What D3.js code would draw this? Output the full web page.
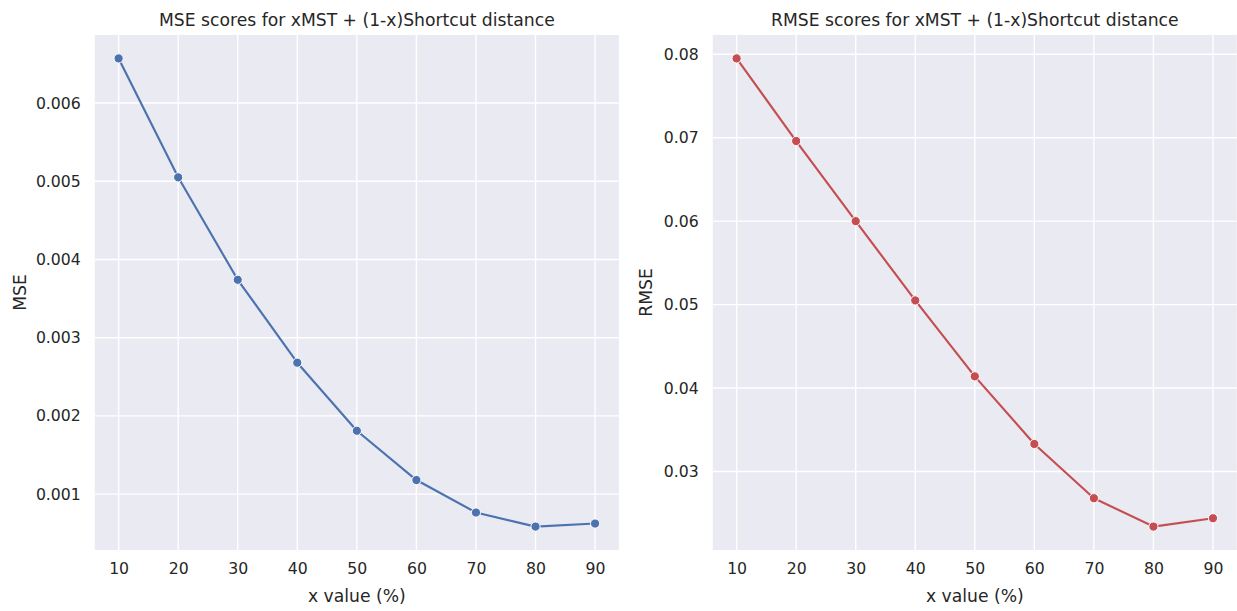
<!DOCTYPE html>
<html>
<head>
<meta charset="utf-8">
<script src="https://cdn.jsdelivr.net/npm/d3@7"></script>
<style>
  html, body { margin: 0; padding: 0; background: #ffffff; }
  svg { display: block; }
  text { font-family: "DejaVu Sans", sans-serif; fill: #262626; }
</style>
</head>
<body>
<svg id="chart" width="1237" height="611"></svg>
<script>
// ---- data ----
const xValues = [10, 20, 30, 40, 50, 60, 70, 80, 90];
const mseValues = [0.00657, 0.00505, 0.00374, 0.00268, 0.00181, 0.00118, 0.000765, 0.000585, 0.000624];
const rmseValues = [0.0795, 0.0696, 0.0600, 0.0505, 0.0414, 0.0333, 0.0268, 0.0234, 0.0244];
const xTicks = [10, 20, 30, 40, 50, 60, 70, 80, 90];
const mseTicks = [0.001, 0.002, 0.003, 0.004, 0.005, 0.006];
const rmseTicks = [0.03, 0.04, 0.05, 0.06, 0.07, 0.08];
const titles = ["MSE scores for xMST + (1-x)Shortcut distance", "RMSE scores for xMST + (1-x)Shortcut distance"];
const yLabels = ["MSE", "RMSE"];
const xLabel = "x value (%)";

const svg = d3.select("#chart");
const plotTop = 35, plotBottom = 550;

function padded(ext) {
  const m = (ext[1] - ext[0]) * 0.05;
  return [ext[0] - m, ext[1] + m];
}

function panel(left, right, values, yTicks, fmt, color, title, ylab, ylabX) {
  const x = d3.scaleLinear().domain(padded(d3.extent(xValues))).range([left, right]);
  const y = d3.scaleLinear().domain(padded(d3.extent(values))).range([plotBottom, plotTop]);
  const g = svg.append("g");

  g.append("rect").attr("x", left).attr("y", plotTop)
    .attr("width", right - left).attr("height", plotBottom - plotTop)
    .attr("fill", "#eaeaf2");

  // grid
  g.append("g").selectAll("line").data(xTicks).join("line")
    .attr("x1", d => x(d)).attr("x2", d => x(d))
    .attr("y1", plotTop).attr("y2", plotBottom)
    .attr("stroke", "#ffffff").attr("stroke-width", 1.4);
  g.append("g").selectAll("line").data(yTicks).join("line")
    .attr("x1", left).attr("x2", right)
    .attr("y1", d => y(d)).attr("y2", d => y(d))
    .attr("stroke", "#ffffff").attr("stroke-width", 1.4);

  // axes (tick labels only)
  const xAxis = d3.axisBottom(x).tickValues(xTicks).tickSize(0).tickPadding(13);
  const xa = g.append("g").attr("transform", `translate(0,${plotBottom})`).call(xAxis);
  xa.select(".domain").remove();
  xa.selectAll("text").attr("font-size", "15.7px").attr("fill", "#262626")
    .attr("font-family", "DejaVu Sans, sans-serif");

  const yAxis = d3.axisLeft(y).tickValues(yTicks).tickSize(0).tickPadding(14).tickFormat(fmt);
  const ya = g.append("g").attr("transform", `translate(${left},0)`).call(yAxis);
  ya.select(".domain").remove();
  ya.selectAll("text").attr("font-size", "15.7px").attr("fill", "#262626")
    .attr("font-family", "DejaVu Sans, sans-serif");

  // line
  const line = d3.line().x((d, i) => x(xValues[i])).y(d => y(d));
  g.append("path").datum(values)
    .attr("d", line).attr("fill", "none")
    .attr("stroke", color).attr("stroke-width", 2.15)
    .attr("stroke-linejoin", "round").attr("stroke-linecap", "round");

  g.append("g").selectAll("circle").data(values).join("circle")
    .attr("cx", (d, i) => x(xValues[i])).attr("cy", d => y(d))
    .attr("r", 4.6).attr("fill", color)
    .attr("stroke", "#ffffff").attr("stroke-width", 1);

  // title
  g.append("text").attr("x", (left + right) / 2).attr("y", 26)
    .attr("text-anchor", "middle").attr("font-size", "17.2px").text(title);
  // x label
  g.append("text").attr("x", (left + right) / 2).attr("y", 602)
    .attr("text-anchor", "middle").attr("font-size", "17.2px").text(xLabel);
  // y label
  g.append("text").attr("transform", `translate(${ylabX},${(plotTop + plotBottom) / 2}) rotate(-90)`)
    .attr("text-anchor", "middle").attr("font-size", "17.2px").text(ylab);
}

panel(94.8, 618.9, mseValues, mseTicks, d3.format(".3f"), "#4c72b0", titles[0], yLabels[0], 26);
panel(712.8, 1236.8, rmseValues, rmseTicks, d3.format(".2f"), "#c44e52", titles[1], yLabels[1], 652);
</script>
</body>
</html>
